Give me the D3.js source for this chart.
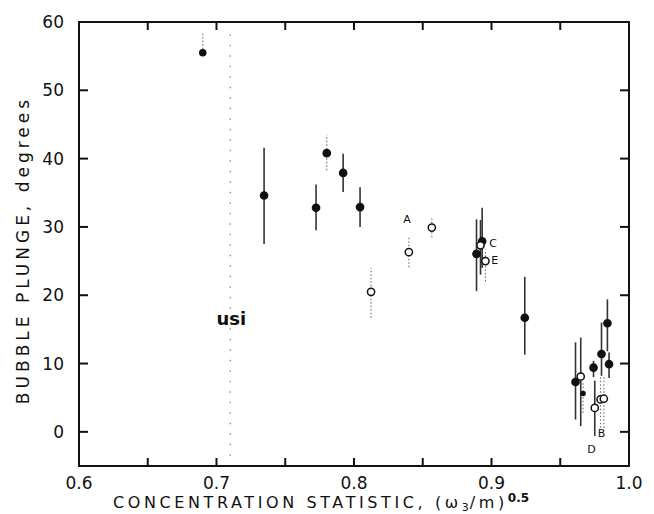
<!DOCTYPE html>
<html>
<head>
<meta charset="utf-8">
<script src="https://cdn.jsdelivr.net/npm/d3@7"></script>
<style>
  body { margin: 0; background: #fff; }
  text { font-family: "DejaVu Sans", sans-serif; fill: #111; }
</style>
</head>
<body>
<div id="chart"></div>
<script>
// datos
const xVals   = [0.690, 0.7346, 0.7724, 0.7802, 0.7921, 0.8044, 0.8124, 0.8399, 0.8566, 0.8891, 0.8932, 0.8920, 0.8956, 0.9242, 0.9611, 0.9649, 0.9666, 0.9742, 0.9751, 0.9800, 0.9793, 0.9817, 0.9843, 0.9855]
const yVals   = [55.5, 34.6, 32.8, 40.8, 37.9, 32.9, 20.5, 26.3, 29.9, 26.05, 27.9, 27.3, 25.0, 16.7, 7.3, 8.1, 5.6, 9.4, 3.5, 11.4, 4.75, 4.85, 15.9, 9.9]
const yLow    = [55.5, 27.5, 29.5, 38.3, 35.1, 30.0, 16.7, 24.1, 28.5, 20.6, 24.0, 23.0, 22.0, 11.3, 1.8, 0.85, 2.8, 8.0, -0.6, 8.2, 0.6, 0.6, 11.8, 7.9]
const yHigh   = [58.5, 41.6, 36.2, 43.5, 40.7, 35.8, 24.0, 28.6, 31.4, 31.1, 32.8, 31.0, 26.7, 22.7, 13.1, 13.8, 7.4, 10.4, 7.5, 16.0, 8.2, 8.2, 19.4, 11.6]
const filled  = [1, 1, 1, 1, 1, 1, 0, 0, 0, 1, 1, 0, 0, 1, 1, 0, 1, 1, 0, 1, 0, 0, 1, 1]
const dotted  = [1, 0, 0, 1, 0, 0, 1, 1, 1, 0, 0, 0, 1, 0, 0, 0, 1, 0, 0, 0, 1, 1, 0, 0]

const labelText = ["A", "C", "E", "B", "D"]
const labelX    = [0.8386, 0.9012, 0.9024, 0.9800, 0.9727]
const labelY    = [31.2, 27.7, 25.2, -0.1, -2.5]

const xTicks = [0.6, 0.7, 0.8, 0.9, 1.0]
const xMinor = [0.65, 0.7, 0.75, 0.8, 0.85, 0.9, 0.95]
const yTicks = [0, 10, 20, 30, 40, 50, 60]
const yInner = [0, 10, 20, 30, 40, 50]
const usiX = 0.71

const width = 654
const height = 514
const margin = { top: 22, bottom: 48, left: 79, right: 25 }

const svg = d3.select("div#chart").append("svg").attr("width", width).attr("height", height)

const x = d3.scaleLinear().domain([0.6, 1.0]).range([margin.left, width - margin.right])
const y = d3.scaleLinear().domain([-5, 60]).range([height - margin.bottom, margin.top])

// marco
const axisG = svg.append("g").attr("class", "axisG")
axisG.append("rect")
    .attr("x", x(0.6)).attr("y", y(60))
    .attr("width", x(1.0) - x(0.6)).attr("height", y(-5) - y(60))
    .attr("fill", "none").attr("stroke", "#111").attr("stroke-width", 2)

// ticks hacia dentro
axisG.selectAll("line.bt").data(xMinor).enter().append("line").attr("class", "bt")
    .attr("x1", d => x(d)).attr("x2", d => x(d))
    .attr("y1", y(-5)).attr("y2", y(-5) - 8)
    .attr("stroke", "#111").attr("stroke-width", 2)
axisG.selectAll("line.tt").data(xMinor).enter().append("line").attr("class", "tt")
    .attr("x1", d => x(d)).attr("x2", d => x(d))
    .attr("y1", y(60)).attr("y2", y(60) + 8)
    .attr("stroke", "#111").attr("stroke-width", 2)
axisG.selectAll("line.lt").data(yInner).enter().append("line").attr("class", "lt")
    .attr("x1", x(0.6)).attr("x2", x(0.6) + 9)
    .attr("y1", d => y(d)).attr("y2", d => y(d))
    .attr("stroke", "#111").attr("stroke-width", 2)
axisG.selectAll("line.rt").data(yInner).enter().append("line").attr("class", "rt")
    .attr("x1", x(1.0)).attr("x2", x(1.0) - 9)
    .attr("y1", d => y(d)).attr("y2", d => y(d))
    .attr("stroke", "#111").attr("stroke-width", 2)

// etiquetas de los ejes
svg.append("g").selectAll("text").data(xTicks).enter().append("text")
    .attr("x", d => x(d))
    .attr("y", 489)
    .attr("text-anchor", "middle")
    .style("font-size", "17px")
    .text(d => d.toFixed(1))

svg.append("g").selectAll("text").data(yTicks).enter().append("text")
    .attr("x", margin.left - 15)
    .attr("y", d => y(d) + 6)
    .attr("text-anchor", "end")
    .style("font-size", "17px")
    .text(d => d)

const xTitle = svg.append("text")
    .attr("x", 113)
    .attr("y", 508)
    .attr("text-anchor", "start")
    .style("font-size", "16px")
    .style("letter-spacing", "3.6px")
xTitle.append("tspan").text("CONCENTRATION STATISTIC, (\u03c9")
xTitle.append("tspan").attr("dy", 3).style("font-size", "11px").style("letter-spacing", "1px").text("3")
xTitle.append("tspan").attr("dy", -3).text("/m)")
xTitle.append("tspan").attr("dy", -6).style("font-size", "12px").style("font-weight", "bold").style("letter-spacing", "0px").text("0.5")

svg.append("text")
    .attr("transform", `translate(29,${250}) rotate(-90)`)
    .attr("text-anchor", "middle")
    .style("font-size", "17px")
    .style("letter-spacing", "4px")
    .text("BUBBLE PLUNGE, degrees")

// linea usi
svg.append("line")
    .attr("x1", x(usiX)).attr("x2", x(usiX))
    .attr("y1", y(58.2)).attr("y2", y(-3.5))
    .attr("stroke", "#666").attr("stroke-width", 1)
    .attr("stroke-dasharray", "1.5,9")
svg.append("text")
    .attr("x", x(usiX) + 1)
    .attr("y", y(15.6))
    .attr("text-anchor", "middle")
    .style("font-size", "18px")
    .style("font-weight", "bold")
    .text("usi")

// barras de error y puntos
const elementGroup = svg.append("g").attr("class", "elementGroup")
const idx = d3.range(xVals.length)

elementGroup.selectAll("line.err").data(idx).enter().append("line")
    .attr("class", "err")
    .attr("x1", i => x(xVals[i])).attr("x2", i => x(xVals[i]))
    .attr("y1", i => y(yLow[i])).attr("y2", i => y(yHigh[i]))
    .attr("stroke", i => dotted[i] ? "#777" : "#333")
    .attr("stroke-width", i => dotted[i] ? 1.2 : 1.6)
    .attr("stroke-dasharray", i => dotted[i] ? "1.5,2" : null)

elementGroup.selectAll("circle").data(idx).enter().append("circle")
    .attr("cx", i => x(xVals[i]))
    .attr("cy", i => y(yVals[i]))
    .attr("r", i => i === 16 ? 2 : (i === 0 ? 3 : 3.6))
    .attr("fill", i => filled[i] ? "#111" : "#fff")
    .attr("stroke", "#111")
    .attr("stroke-width", 1.5)

svg.append("g").selectAll("text").data(labelText).enter().append("text")
    .attr("x", (d, i) => x(labelX[i]))
    .attr("y", (d, i) => y(labelY[i]) + 4)
    .attr("text-anchor", "middle")
    .style("font-size", "11px")
    .text(d => d)
</script>
</body>
</html>
